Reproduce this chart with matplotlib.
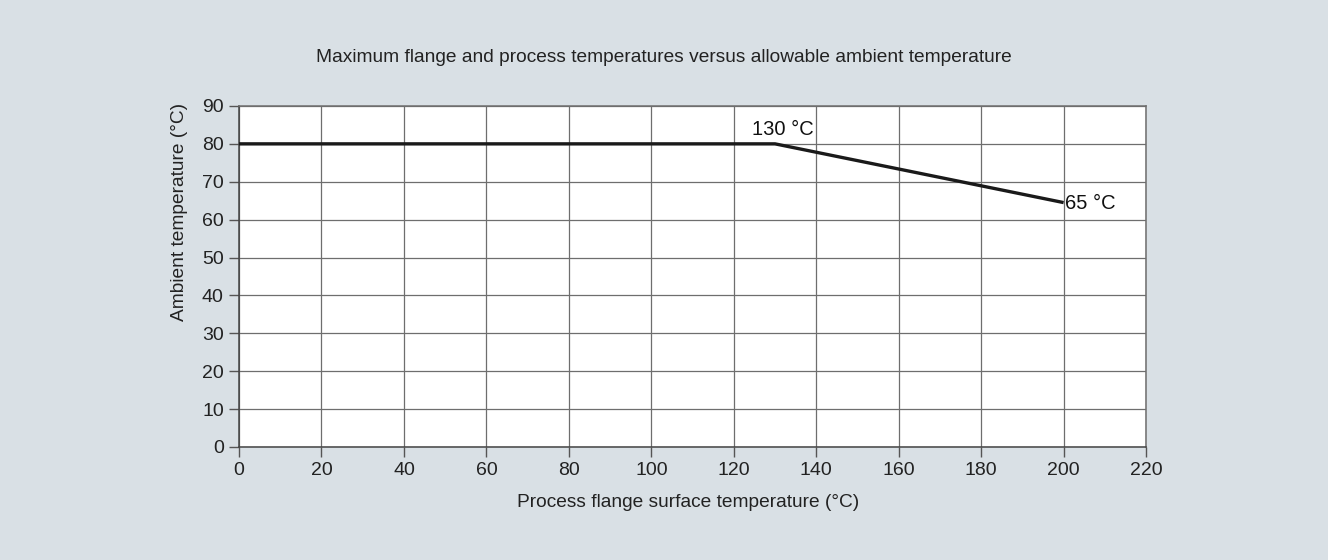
import matplotlib
matplotlib.use("Agg")
import matplotlib.pyplot as plt

# datos
flange_temp = [0, 130, 200]
ambient_temp = [80, 80, 64.5]
x_ticks = list(range(0, 221, 20))
y_ticks = list(range(0, 91, 10))

plt.rcParams['font.family'] = ['Liberation Sans', 'DejaVu Sans']

bg = "#d9e0e5"
fig = plt.figure(figsize=(13.28, 5.6), dpi=100, facecolor=bg)
ax = fig.add_axes([0.180, 0.2018, 0.683, 0.609])
ax.set_facecolor("white")

ax.plot(flange_temp, ambient_temp, color="#1a1a1a", lw=2.4, solid_capstyle="butt", zorder=3)

ax.set_xlim(0, 220)
ax.set_ylim(0, 90)
ax.set_xticks(x_ticks)
ax.set_yticks(y_ticks)
ax.grid(True, color="#6e6e6e", lw=0.9)
ax.set_axisbelow(True)
for s in ax.spines.values():
    s.set_color("#444444")
    s.set_linewidth(1.1)
ax.spines["top"].set_color("#6e6e6e")
ax.spines["right"].set_color("#6e6e6e")
ax.tick_params(length=7, width=1.0, color="#555555", labelsize=14, labelcolor="#222222", pad=4)

ax.text(132, 81.3, "130 °C", ha="center", va="bottom", fontsize=14.5, color="#111111")
ax.text(200.3, 64.3, "65 °C", ha="left", va="center", fontsize=14.5, color="#111111")

ax.set_xlabel("Process flange surface temperature (°C)", fontsize=13.8, color="#222222")
ax.set_ylabel("Ambient temperature (°C)", fontsize=13.8, color="#222222")
ax.xaxis.set_label_coords(0.495, -0.1375)
ax.yaxis.set_label_coords(-0.056, 0.688)
fig.text(0.5, 0.898, "Maximum flange and process temperatures versus allowable ambient temperature",
         ha="center", va="center", fontsize=13.8, color="#222222")

fig.savefig("out.png", dpi=100, facecolor=bg)
